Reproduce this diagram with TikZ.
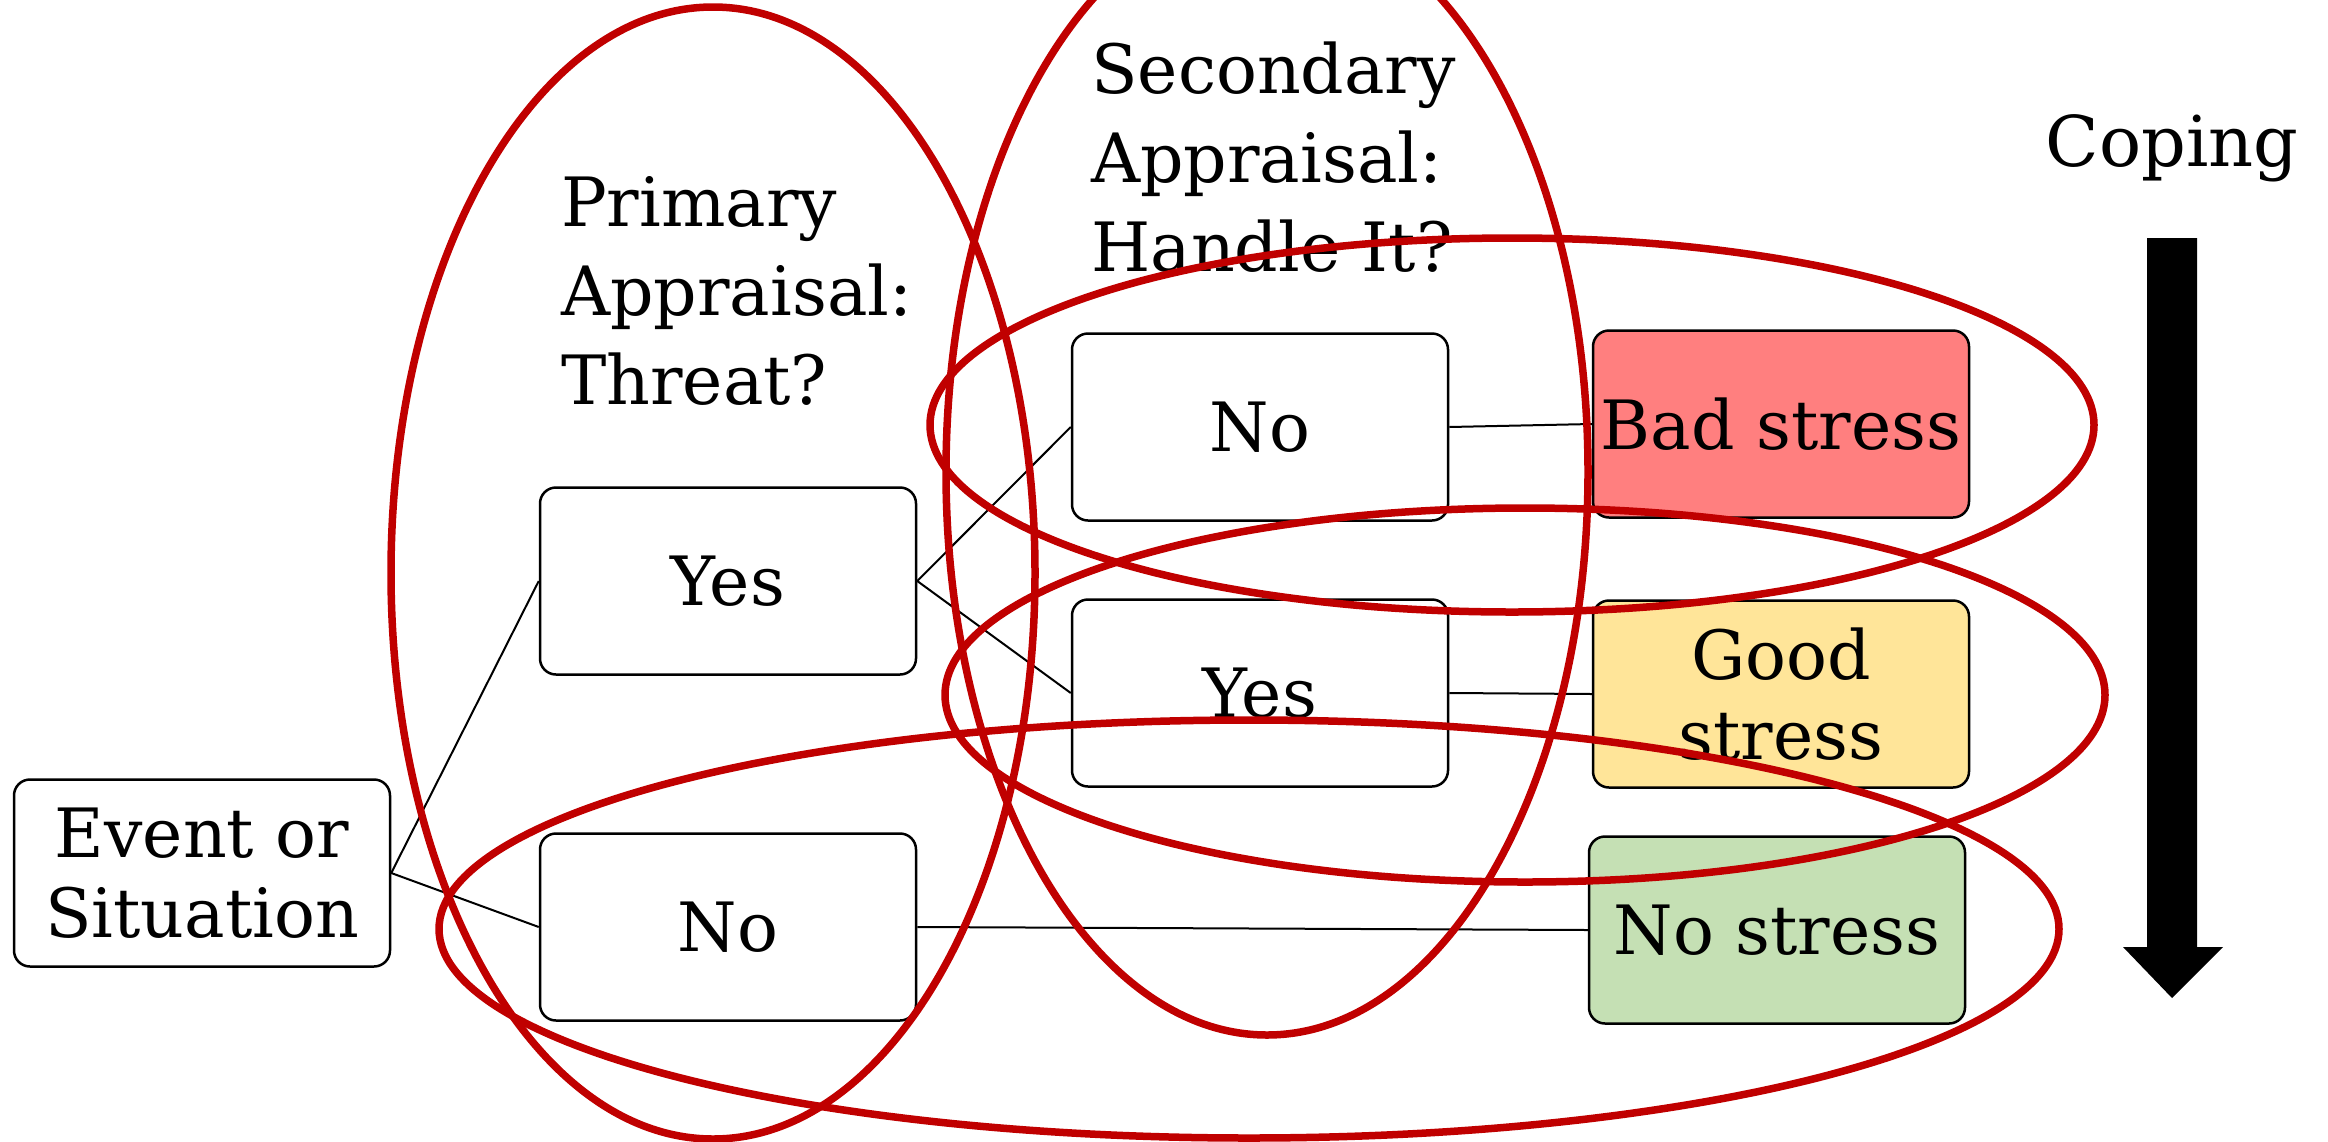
\documentclass[tikz,border=0pt]{standalone}
\usepackage{fontspec}
\setmainfont{DejaVu Serif}
\usetikzlibrary{positioning}

\definecolor{ringred}{HTML}{C00000}
\definecolor{badred}{HTML}{FF7F7F}
\definecolor{goodyel}{HTML}{FFE599}
\definecolor{nogreen}{HTML}{C5E0B4}

\tikzset{
  box/.style={draw, line width=2.5pt, rounded corners=16pt, minimum width=376pt,
    minimum height=187pt, align=center, inner sep=0pt,
    font=\fontsize{68}{80}\selectfont},
  head/.style={align=left, inner sep=0pt, anchor=north west,
    font=\fontsize{68}{89}\selectfont},
  ring/.style={draw=ringred, line width=7.5pt},
}

\begin{document}
\begin{tikzpicture}[x=1pt,y=-1pt]
     \useasboundingbox (0,0) rectangle (2328,1141);
     \node[box] (ev) at (202,873) {Event or\\Situation};
     \node[box] (py) at (728,581) {Yes};
     \node[box] (pn) at (728,927) {No};
     \node[box] (sn) at (1260,427) {No};
     \node[box] (sy) at (1260,693) {Yes};
     \node[box,fill=badred] (bad) at (1781,424) {Bad stress};
     \node[box,fill=goodyel] (good) at (1781,694) {Good\\stress};
     \node[box,fill=nogreen] (none) at (1777,930) {No stress};
     \node[head] (ph) at (561,176) {Primary\\Appraisal:\\Threat?};
     \node[head] (sh) at (1091,42) {Secondary\\Appraisal:\\Handle It?};
     \node[font=\fontsize{70}{80}\selectfont] (cop) at (2172,148) {Coping};
     \draw[line width=2pt]
     (ev.east) edge (py.west)
     (ev.east) edge (pn.west)
     (py.east) edge (sn.west)
     (py.east) edge (sy.west)
     (sn.east) edge (bad.west)
     (sy.east) edge (good.west)
     (pn.east) edge (none.west);
     % coping arrow
     \fill (2147,238) -- (2197,238) -- (2197,947) -- (2223,947) -- (2172,998)
       -- (2123,947) -- (2147,947) -- cycle;
     % rings
     \draw[ring] (713,573) ellipse [x radius=322, y radius=566];
     \draw[ring] (1267,472) ellipse [x radius=321, y radius=563];
     \draw[ring] (1512,425) ellipse [x radius=582, y radius=187];
     \draw[ring] (1525,695) ellipse [x radius=580, y radius=187];
     \draw[ring] (1249,929) ellipse [x radius=810, y radius=209];
\end{tikzpicture}
\end{document}
